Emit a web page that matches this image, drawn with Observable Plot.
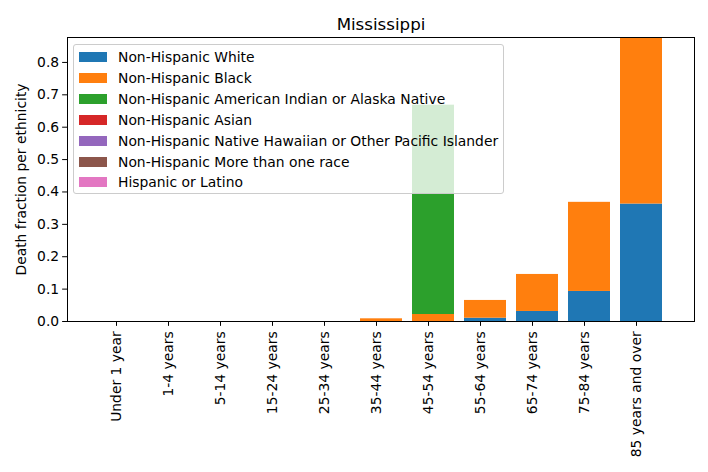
<!DOCTYPE html>
<html>
<head>
<meta charset="utf-8">
<script src="https://cdn.jsdelivr.net/npm/d3@7"></script>
<script src="https://cdn.jsdelivr.net/npm/@observablehq/plot@0.6"></script>
<style>
  html, body { margin: 0; padding: 0; background: #fff; }
  #wrap { position: relative; width: 708px; height: 472px; font-family: "DejaVu Sans", sans-serif; }
  #legend { position: absolute; left: 73px; top: 44px; width: 431px; height: 150px;
    border: 1px solid #cccccc; border-radius: 3px; background: rgba(255,255,255,0.8);
    box-sizing: border-box; }
  .row { position: absolute; left: 5px; height: 14px; display: flex; align-items: center;
    font-size: 13.89px; color: #000; white-space: nowrap; }
  .sw { width: 28px; height: 10px; margin-right: 11px; }
</style>
</head>
<body>
<div id="wrap"></div>
<script>
const ages = ["Under 1 year","1-4 years","5-14 years","15-24 years","25-34 years","35-44 years","45-54 years","55-64 years","65-74 years","75-84 years","85 years and over"];
const ethnicities = ["Non-Hispanic White","Non-Hispanic Black","Non-Hispanic American Indian or Alaska Native","Non-Hispanic Asian","Non-Hispanic Native Hawaiian or Other Pacific Islander","Non-Hispanic More than one race","Hispanic or Latino"];
const colors = ["#1f77b4","#ff7f0e","#2ca02c","#d62728","#9467bd","#8c564b","#e377c2"];

const white    = [0,0,0,0,0,0,0,0.0102,0.031,0.0928,0.3627];
const black    = [0,0,0,0,0,0.0083,0.0216,0.0548,0.1143,0.2752,0.5143];
const amInd    = [0,0,0,0,0,0,0.6464,0,0,0,0];
const asian    = [0,0,0,0,0,0,0,0,0,0,0];
const hawaiian = [0,0,0,0,0,0,0,0,0,0,0];
const multi    = [0,0,0,0,0,0,0,0,0,0,0];
const hispanic = [0,0,0,0,0,0,0,0,0,0,0];
const series = [white, black, amInd, asian, hawaiian, multi, hispanic];
const yTicks = [0,0.1,0.2,0.3,0.4,0.5,0.6,0.7,0.8];

const data = [];
ethnicities.forEach((e, k) => ages.forEach((a, i) => data.push({age: a, eth: e, value: series[k][i]})));

const fs = 13.89;
const chart = Plot.plot({
  width: 708, height: 472,
  marginLeft: 67, marginRight: 14, marginTop: 37, marginBottom: 151,
  style: {fontFamily: "DejaVu Sans, sans-serif", fontSize: fs + "px", background: "#fff", color: "#000"},
  x: {type: "band", domain: ages, paddingInner: 0.2, paddingOuter: 0.54, label: null},
  y: {domain: [0, 0.877], label: null},
  color: {domain: ethnicities, range: colors},
  marks: [
    Plot.barY(data, {x: "age", y: "value", fill: "eth", order: null, clip: true}),
    Plot.frame({stroke: "#000", strokeWidth: 1}),
    Plot.axisY({ticks: yTicks, tickFormat: d3.format(".1f"), tickSize: 4.86, tickPadding: 3.5, fontSize: fs, label: null, stroke: "#000"}),
    Plot.axisX({tickSize: 4.86, tickPadding: 4.86, tickRotate: -90, dx: -5, fontSize: fs, label: null, stroke: "#000"}),
    Plot.text(["Mississippi"], {frameAnchor: "top", dy: -8, lineAnchor: "bottom", fontSize: 16.67, fill: "#000"}),
    Plot.text(["Death fraction per ethnicity"], {frameAnchor: "left", dx: -46, rotate: -90, textAnchor: "middle", fontSize: fs, fill: "#000"})
  ]
});
const wrap = document.getElementById("wrap");
wrap.appendChild(chart);

const legend = document.createElement("div");
legend.id = "legend";
ethnicities.forEach((e, k) => {
  const row = document.createElement("div");
  row.className = "row";
  row.style.top = (5 + k * 20.9) + "px";
  const sw = document.createElement("div");
  sw.className = "sw";
  sw.style.background = colors[k];
  const t = document.createElement("span");
  t.textContent = e;
  row.appendChild(sw); row.appendChild(t);
  legend.appendChild(row);
});
wrap.appendChild(legend);
</script>
</body>
</html>
